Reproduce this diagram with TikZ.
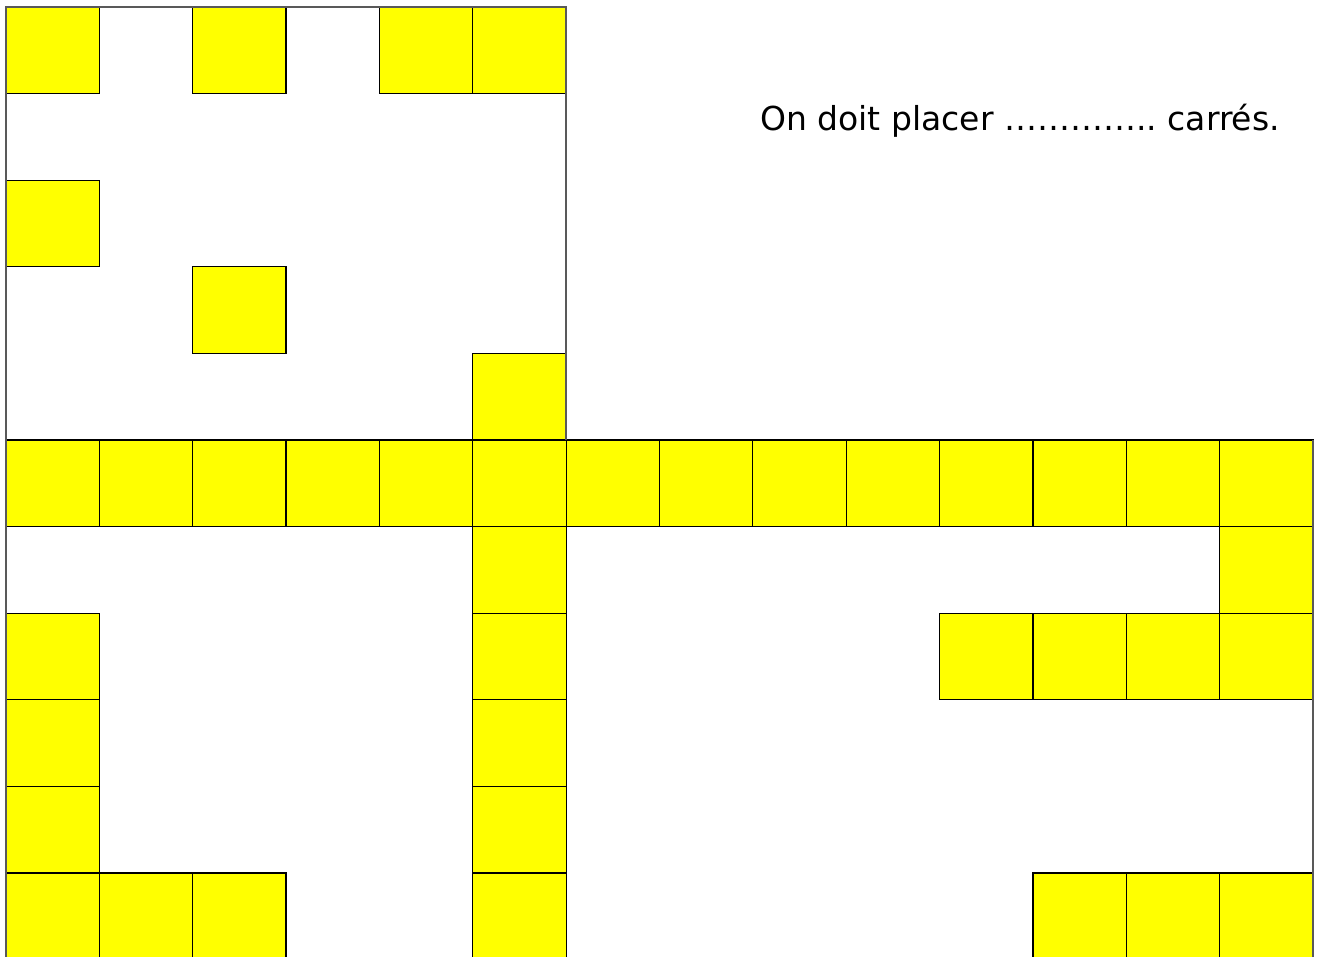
\documentclass[tikz,border=0pt]{standalone}
\usepackage{fontspec}
\setmainfont{DejaVu Sans}
\definecolor{caseJaune}{RGB}{255,255,0}
\begin{document}
\begin{tikzpicture}[x=1pt,y=-1pt,
  cell/.style={fill=caseJaune, draw=black, line width=1.2pt},
  outline/.style={draw=black!65, line width=2pt},
  label/.style={font=\fontsize{33}{40}\selectfont, anchor=base west, inner sep=0pt}]
\useasboundingbox (0,0) rectangle (1322,956);
\clip (0,0) rectangle (1322,956);
\fill[white] (0,0) rectangle (1322,956);
\def\cw{93.357}
\def\rh{86.6}
\foreach \c/\r in {0/0,2/0,4/0,5/0,
                   0/2,
                   2/3,
                   5/4,
                   0/5,1/5,2/5,3/5,4/5,5/5,6/5,7/5,8/5,9/5,10/5,11/5,12/5,13/5,
                   5/6,13/6,
                   0/7,5/7,10/7,11/7,12/7,13/7,
                   0/8,5/8,
                   0/9,5/9,
                   0/10,1/10,2/10,5/10,11/10,12/10,13/10}
  \draw[cell] ({6+\c*\cw},{7+\r*\rh}) rectangle ++(\cw,\rh);
\draw[outline] (566,440) -- (566,7) -- (6,7) -- (6,960);
\draw[outline] (1313,440) -- (1313,960);
\node[label] (consigne) at (760,130) {On doit placer …………..\ carrés.};
\end{tikzpicture}
\end{document}
